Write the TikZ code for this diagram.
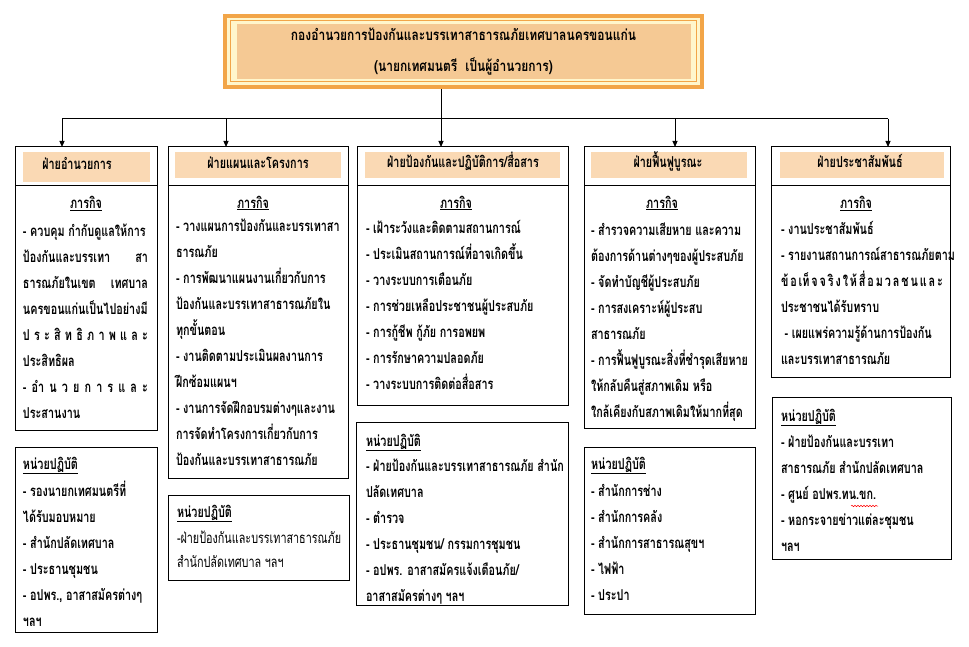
\documentclass[tikz,border=0pt]{standalone}
\usepackage{fontspec}
\newfontfamily\thai[Script=Thai,FakeStretch=0.72]{Loma}
\newfontfamily\thaiw[Script=Thai,FakeStretch=0.8]{Loma}
\usetikzlibrary{arrows.meta,decorations.pathmorphing,fit}
\definecolor{hdrfill}{RGB}{250,217,180}
\definecolor{topfill}{RGB}{245,201,148}
\definecolor{toporange}{RGB}{242,165,72}
\definecolor{topcream}{RGB}{255,246,204}
\tikzset{
  every node/.style={inner sep=0pt, outer sep=0pt, font=\thai\bfseries\fontsize{15}{26}\selectfont},
  box/.style={draw=black, line width=1pt},
  hdr/.style={fill=hdrfill},
  txt/.style={anchor=north west, align=left},
  ttl/.style={anchor=base},
  toptxt/.style={anchor=base, font=\thaiw\bfseries\fontsize{15}{26}\selectfont},
  arr/.style={line width=1pt, -{Triangle[length=6pt,width=5pt]}},
  conn/.style={line width=1pt},
  sep/.style={line width=1pt},
}
\newcommand\J[2]{\makebox[#1pt][s]{#2}}
\begin{document}
\begin{tikzpicture}[x=1pt,y=-1pt]
\useasboundingbox[fill=white] (0,0) rectangle (969,647);
% ---------- top box
\node[fill=toporange, fit={(223,14) (704,89)}] (topouter) {};
\node[fill=topcream, fit={(227,18) (700,85)}] (topcream) {};
\node[draw=toporange, line width=1pt, fit={(230.5,21) (696.5,82)}] (topline) {};
\node[fill=topfill, fit={(237,24) (691,79)}] (topbox) {};
\node[toptxt] (t1) at (463.5,41) {กองอำนวยการป้องกันและบรรเทาสาธารณภัยเทศบาลนครขอนแก่น};
\node[toptxt] (t2) at (463.5,72) {(นายกเทศมนตรี\ \ เป็นผู้อำนวยการ)};
% ---------- connectors
\coordinate (tv) at (441,89);
\coordinate (bus) at (441,119);
\coordinate (a1) at (62,147);
\coordinate (a2) at (226,147);
\coordinate (a3) at (441,147);
\coordinate (a4) at (675,147);
\coordinate (a5) at (888,147);
\draw[conn] (tv) -- (bus);
\draw[conn] (a1 |- bus) -- (a5 |- bus);
\foreach \i in {1,...,5} \draw[arr] (a\i |- bus) -- (a\i);
% ---------- column 1
\node[box, fit={(15,147) (157,430)}] (u1) {};
\draw[sep] (u1.west |- 0,186) -- (u1.east |- 0,186);
\node[hdr, fit={(23,152) (150,182)}] (h1) {};
\node[ttl] (h1t) at (77,170) {ฝ่ายอำนวยการ};
\node[ttl] (m1) at (86,209) {\underline{ภารกิจ}};
\node[txt] (b1) at (23,216) {\rule{0pt}{20pt}%
- ควบคุม กำกับดูแลให้การ\\
\J{125}{ป้องกันและบรรเทา\hfill สา}\\
\J{125}{ธารณภัยในเขต\hfill เทศบาล}\\
\J{125}{นครขอนแก่นเป็นไปอย่างมี}\\
\J{125}{ป\hfill ร\hfill ะ\hfill สิ\hfill ท\hfill ธิ\hfill ภ\hfill า\hfill พ\hfill แ\hfill ล\hfill ะ}\\
ประสิทธิผล\\
\J{125}{-\hfill อำ\hfill น\hfill ว\hfill ย\hfill ก\hfill า\hfill ร\hfill แ\hfill ล\hfill ะ}\\
ประสานงาน};
\node[box, fit={(15,447) (157,632)}] (l1) {};
\node[ttl, anchor=base west] (n1) at (23,469) {\underline{หน่วยปฏิบัติ}};
\node[txt] (lb1) at (23,476) {\rule{0pt}{20pt}%
- รองนายกเทศมนตรีที่\\
ได้รับมอบหมาย\\
- สำนักปลัดเทศบาล\\
- ประธานชุมชน\\
- อปพร., อาสาสมัครต่างๆ\\
ฯลฯ};
% ---------- column 2
\node[box, fit={(168,147) (348,478)}] (u2) {};
\draw[sep] (u2.west |- 0,186) -- (u2.east |- 0,186);
\node[hdr, fit={(175,152) (341,178)}] (h2) {};
\node[ttl] (h2t) at (258,169) {ฝ่ายแผนและโครงการ};
\node[ttl] (m2) at (253,208) {\underline{ภารกิจ}};
\node[txt] (b2) at (176,211) {\rule{0pt}{20pt}%
- วางแผนการป้องกันและบรรเทาสา\\
ธารณภัย\\
- การพัฒนาแผนงานเกี่ยวกับการ\\
ป้องกันและบรรเทาสาธารณภัยใน\\
ทุกขั้นตอน\\
- งานติดตามประเมินผลงานการ\\
ฝึกซ้อมแผนฯ\\
- งานการจัดฝึกอบรมต่างๆและงาน\\
การจัดทำโครงการเกี่ยวกับการ\\
ป้องกันและบรรเทาสาธารณภัย};
\node[box, fit={(168,495) (349,580)}] (l2) {};
\node[ttl, anchor=base west] (n2) at (177,517) {\underline{หน่วยปฏิบัติ}};
\node[txt, font=\thai\fontsize{15}{24}\selectfont] (lb2) at (177,523) {\rule{0pt}{20pt}%
-ฝ่ายป้องกันและบรรเทาสาธารณภัย\\
สำนักปลัดเทศบาล ฯลฯ};
% ---------- column 3
\node[box, fit={(357,147) (568,405)}] (u3) {};
\draw[sep] (u3.west |- 0,186) -- (u3.east |- 0,186);
\node[hdr, fit={(365,152) (560,178)}] (h3) {};
\node[ttl] (h3t) at (463,168) {ฝ่ายป้องกันและปฏิบัติการ/สื่อสาร};
\node[ttl] (m3) at (456,208) {\underline{ภารกิจ}};
\node[txt] (b3) at (366,213) {\rule{0pt}{20pt}%
- เฝ้าระวังและติดตามสถานการณ์\\
- ประเมินสถานการณ์ที่อาจเกิดขึ้น\\
- วางระบบการเตือนภัย\\
- การช่วยเหลือประชาชนผู้ประสบภัย\\
- การกู้ชีพ กู้ภัย การอพยพ\\
- การรักษาความปลอดภัย\\
- วางระบบการติดต่อสื่อสาร};
\node[box, fit={(356,422) (568,605)}] (l3) {};
\node[ttl, anchor=base west] (n3) at (366,446) {\underline{หน่วยปฏิบัติ}};
\node[txt] (lb3) at (366,451) {\rule{0pt}{20pt}%
- ฝ่ายป้องกันและบรรเทาสาธารณภัย สำนัก\\
ปลัดเทศบาล\\
- ตำรวจ\\
- ประธานชุมชน/ กรรมการชุมชน\\
- อปพร. อาสาสมัครแจ้งเตือนภัย/\\
อาสาสมัครต่างๆ ฯลฯ};
% ---------- column 4
\node[box, fit={(584,147) (755,428)}] (u4) {};
\draw[sep] (u4.west |- 0,186) -- (u4.east |- 0,186);
\node[hdr, fit={(591,152) (747,178)}] (h4) {};
\node[ttl] (h4t) at (668,168) {ฝ่ายฟื้นฟูบูรณะ};
\node[ttl] (m4) at (662,208) {\underline{ภารกิจ}};
\node[txt] (b4) at (591,215) {\rule{0pt}{20pt}%
- สำรวจความเสียหาย และความ\\
ต้องการด้านต่างๆของผู้ประสบภัย\\
- จัดทำบัญชีผู้ประสบภัย\\
- การสงเคราะห์ผู้ประสบ\\
สาธารณภัย\\
- การฟื้นฟูบูรณะสิ่งที่ชำรุดเสียหาย\\
ให้กลับคืนสู่สภาพเดิม หรือ\\
ใกล้เคียงกับสภาพเดิมให้มากที่สุด};
\node[box, fit={(584,447) (755,614)}] (l4) {};
\node[ttl, anchor=base west] (n4) at (591,469) {\underline{หน่วยปฏิบัติ}};
\node[txt] (lb4) at (591,476) {\rule{0pt}{20pt}%
- สำนักการช่าง\\
- สำนักการคลัง\\
- สำนักการสาธารณสุขฯ\\
- ไฟฟ้า\\
- ประปา};
% ---------- column 5
\node[box, fit={(771,147) (950,377)}] (u5) {};
\draw[sep] (u5.west |- 0,186) -- (u5.east |- 0,186);
\node[hdr, fit={(780,152) (944,178)}] (h5) {};
\node[ttl] (h5t) at (860,168) {ฝ่ายประชาสัมพันธ์};
\node[ttl] (m5) at (856,209) {\underline{ภารกิจ}};
\node[txt] (b5) at (781,214) {\rule{0pt}{20pt}%
- งานประชาสัมพันธ์\\
- รายงานสถานการณ์สาธารณภัยตาม\\
\J{162}{ข้\hfill อ\hfill เท็\hfill จ\hfill จ\hfill ริ\hfill ง\hfill ใ\hfill ห้\hfill สื่\hfill อ\hfill ม\hfill ว\hfill ล\hfill ช\hfill น\hfill แ\hfill ล\hfill ะ}\\
ประชาชนได้รับทราบ\\
\ - เผยแพร่ความรู้ด้านการป้องกัน\\
และบรรเทาสาธารณภัย};
\node[box, fit={(772,397) (951,559)}] (l5) {};
\node[ttl, anchor=base west] (n5) at (781,421) {\underline{หน่วยปฏิบัติ}};
\node[txt] (lb5) at (781,427) {\rule{0pt}{20pt}%
- ฝ่ายป้องกันและบรรเทา\\
สาธารณภัย สำนักปลัดเทศบาล\\
- ศูนย์ อปพร.ทน.ขก.\\
- หอกระจายข่าวแต่ละชุมชน\\
ฯลฯ};
\draw[red, line width=0.5pt, decorate, decoration={snake, amplitude=0.7pt, segment length=3pt}] (851,506) -- (878,506);
\end{tikzpicture}
\end{document}
